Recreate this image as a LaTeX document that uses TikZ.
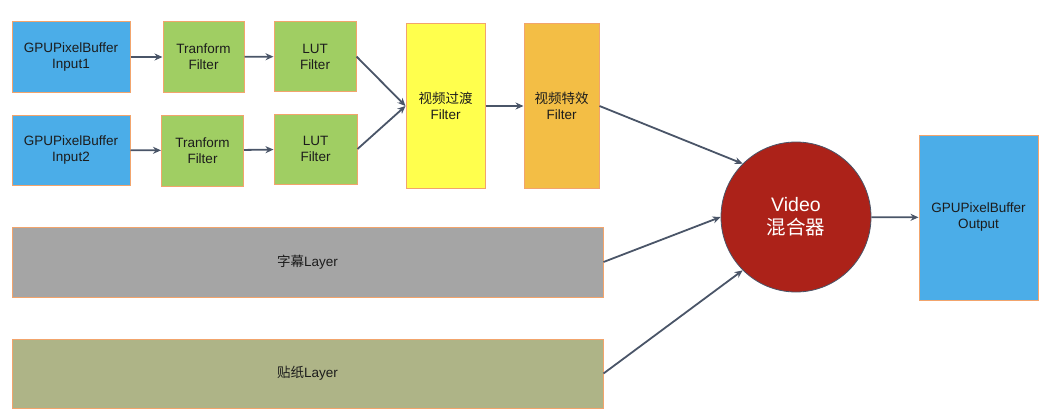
\documentclass[tikz,border=0pt]{standalone}
\usepackage{fontspec}
\setmainfont{Liberation Sans}
\newfontfamily\cjk{Noto Sans CJK SC}
\usetikzlibrary{arrows.meta}

\definecolor{bufblue}{HTML}{4BADE8}
\definecolor{filtgreen}{HTML}{A0CE63}
\definecolor{transyellow}{HTML}{FFFF4D}
\definecolor{fxorange}{HTML}{F3BE45}
\definecolor{subgray}{HTML}{A5A5A5}
\definecolor{stickolive}{HTML}{AEB487}
\definecolor{mixred}{HTML}{AC2219}
\definecolor{edgeorange}{HTML}{F2A46C}
\definecolor{linkgray}{HTML}{4A5568}
\definecolor{textdark}{HTML}{1C1C1C}

\begin{document}
\begin{tikzpicture}
        [
            x = 1pt, y = -1pt,
            boxed/.style   = {shape=rectangle, draw=edgeorange, line width=1pt, align=center,
                              text=textdark, font=\fontsize{13.5}{16}\selectfont},
            mixer/.style   = {shape=circle, draw=linkgray, line width=0.8pt, fill=mixred,
                              align=center, text=white, minimum size=150pt,
                              font=\fontsize{19.5}{23}\selectfont},
            link/.style    = {draw=linkgray, line width=1.8pt, -{Stealth[length=8pt,width=7pt]}},
            % every node/.style = {inner sep=0pt}
        ]
        \useasboundingbox (0,0) rectangle (1044,420);

        % first input chain
        \node [boxed, fill=bufblue, minimum width=118, minimum height=70] (in1) at (71,57) {GPUPixelBuffer\\Input1};
        \node [boxed, fill=filtgreen, minimum width=81, minimum height=70] (tf1) at (203.5,57) {Tranform\\Filter};
        \node [boxed, fill=filtgreen, minimum width=82, minimum height=69] (lut1) at (315,56.5) {LUT\\Filter};

        % second input chain
        \node [boxed, fill=bufblue, minimum width=118, minimum height=70] (in2) at (71,150) {GPUPixelBuffer\\Input2};
        \node [boxed, fill=filtgreen, minimum width=82, minimum height=71] (tf2) at (202.5,150.5) {Tranform\\Filter};
        \node [boxed, fill=filtgreen, minimum width=83, minimum height=70] (lut2) at (315.5,149) {LUT\\Filter};

        \node [boxed, fill=transyellow, minimum width=79, minimum height=164] (trans) at (445.5,106) {{\cjk 视频过渡}\\Filter};
        \node [boxed, fill=fxorange, minimum width=75, minimum height=164] (effect) at (561.5,106) {{\cjk 视频特效}\\Filter};

        % layers
        \node [boxed, fill=subgray, minimum width=591, minimum height=70] (subtitle) at (307.5,262) {{\cjk 字幕}Layer};
        \node [boxed, fill=stickolive, minimum width=591, minimum height=69] (sticker) at (307.5,373.5) {{\cjk 贴纸}Layer};

        \node [mixer] (mix) at (796,217) {Video\\{\cjk 混合器}};
        \node [boxed, fill=bufblue, minimum width=119, minimum height=165] (out) at (978.5,217.5) {GPUPixelBuffer\\Output};

        \draw [link] (in1) -- (tf1);
        \draw [link] (tf1) -- (lut1);
        \draw [link] (in2) -- (tf2);
        \draw [link] (tf2) -- (lut2);
        \draw [link] (lut1.east) -- (trans.west);
        \draw [link] (lut2.east) -- (trans.west);
        \draw [link] (trans) -- (effect);
        \draw [link] (effect.east) -- (mix.135);
        \draw [link] (subtitle.east) -- (mix.west);
        \draw [link] (sticker.east) -- (mix.225);
        \draw [link] (mix) -- (out);
    \end{tikzpicture}
\end{document}
